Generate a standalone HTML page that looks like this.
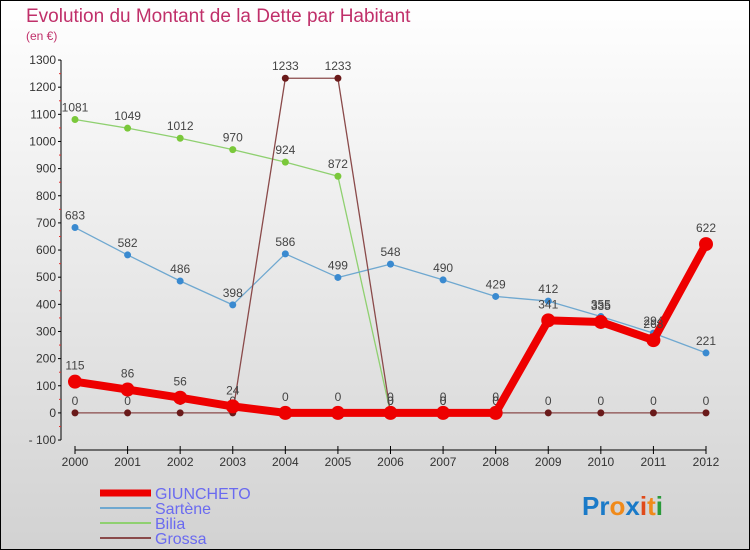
<!DOCTYPE html>
<html><head><meta charset="utf-8"><style>
body{margin:0}
#c{width:750px;height:550px;position:relative;overflow:hidden;font-family:"Liberation Sans","DejaVu Sans",sans-serif}
</style></head><body>
<div id="c">
<svg id="s" width="750" height="550" xmlns="http://www.w3.org/2000/svg">
<defs><linearGradient id="bg" x1="0" y1="0" x2="0" y2="1"><stop offset="0" stop-color="#ffffff"/><stop offset="1" stop-color="#d2d2d2"/></linearGradient></defs>
<rect x="0.5" y="0.5" width="749" height="549" fill="url(#bg)" stroke="#000"/>
<text x="26" y="22" font-size="19" fill="#c0306a">Evolution du Montant de la Dette par Habitant</text>
<text x="26" y="40" font-size="12" fill="#c0306a">(en €)</text>
<g id="axes"></g><g id="series"></g>
<g>
<line x1="100" y1="493" x2="151" y2="493" stroke="#ee0000" stroke-width="7"/>
<text x="155" y="499" font-size="16" fill="#6a6af0">GIUNCHETO</text>
<line x1="100" y1="508" x2="151" y2="508" stroke="#6fa8d0" stroke-width="2"/>
<text x="155" y="514" font-size="16" fill="#6a6af0">Sartène</text>
<line x1="100" y1="523" x2="151" y2="523" stroke="#8fd070" stroke-width="2"/>
<text x="155" y="529" font-size="16" fill="#6a6af0">Bilia</text>
<line x1="100" y1="538" x2="151" y2="538" stroke="#8a4a4a" stroke-width="2"/>
<text x="155" y="544" font-size="16" fill="#6a6af0">Grossa</text>
</g>
<g font-size="26" font-weight="bold">
<text x="582" y="515"><tspan fill="#1a7ac8">Pr</tspan><tspan fill="#f08a1a">o</tspan><tspan fill="#1a7ac8">x</tspan><tspan fill="#e04a1a">i</tspan><tspan fill="#f08a1a">t</tspan><tspan fill="#2a9a3a">i</tspan></text>
</g>
</svg>
</div>
<script>
const years=[2000,2001,2002,2003,2004,2005,2006,2007,2008,2009,2010,2011,2012];
const yTicks=[-100,0,100,200,300,400,500,600,700,800,900,1000,1100,1200,1300];
const giuncheto=[115,86,56,24,0,0,0,0,0,341,335,268,622];
const sartene=[683,582,486,398,586,499,548,490,429,412,355,294,221];
const bilia=[1081,1049,1012,970,924,872,0,0,0,null,null,null,null];
const grossa=[0,0,0,0,1233,1233,0,0,0,0,0,0,0];
const NS="http://www.w3.org/2000/svg";
const xS=i=>75+i*(706-75)/12;
const yS=v=>412.9-v*(380/1400);
function mk(tag,at,parent){const e=document.createElementNS(NS,tag);for(const k in at)e.setAttribute(k,at[k]);parent.appendChild(e);return e;}
const ax=document.getElementById('axes'),sr=document.getElementById('series');
let a=mk('line',{x1:61,y1:yS(1300),x2:61,y2:yS(-100),stroke:'#000'},ax);


yTicks.forEach(v=>{const y=yS(v);
mk('line',{x1:58,y1:y,x2:61,y2:y,stroke:'#000'},ax);
mk('line',{x1:59,y1:y+13.6,x2:61,y2:y+13.6,stroke:v>-100?'#e03030':'none'},ax);
const t=mk('text',{x:56,y:y+4,'font-size':12,'text-anchor':'end',fill:'#333'},ax);t.textContent=v===-100?'- 100':v;

});
a=mk('line',{x1:75,y1:450,x2:706,y2:450,stroke:'#000'},ax);


years.forEach((yr,i)=>{const x=xS(i);mk('line',{x1:x,y1:446,x2:x,y2:454,stroke:'#000'},ax);
const t=mk('text',{x:x,y:466,'font-size':12,'text-anchor':'middle',fill:'#333'},ax);t.textContent=yr;

});
function series(d,col,w,r,dot,name){const g=mk('g',{},sr);


let p='';d.forEach((v,i)=>{if(v===null)return;p+=(p?'L':'M')+xS(i)+' '+yS(v);});
mk('path',{d:p,fill:'none',stroke:col,'stroke-width':w,'stroke-linejoin':'round'},g);
d.forEach((v,i)=>{if(v===null)return;const c=mk('circle',{cx:xS(i),cy:yS(v),r:r,fill:dot},g);


const t=mk('text',{x:xS(i),y:yS(v)-8-(r>5?4:0),'font-size':12,'text-anchor':'middle',fill:'#444'},g);t.textContent=v;});}
series(bilia,'#8fd070',1.3,3.5,'#7ac83a','series-bilia');
series(sartene,'#6fa8d0',1.3,3.5,'#3a8ad0','series-sartene');
series(grossa,'#8a4a4a',1.3,3.5,'#6a1a1a','series-grossa');
series(giuncheto,'#ee0000',8,7,'#ee0000','series-giuncheto');
</script>
</body></html>
